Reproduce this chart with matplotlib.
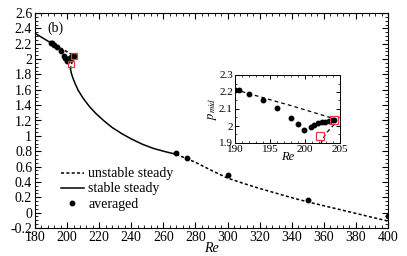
import matplotlib
matplotlib.use("Agg")
import matplotlib.pyplot as plt
from matplotlib.ticker import MultipleLocator, FuncFormatter

plt.rcParams['font.family'] = ['Liberation Serif', 'DejaVu Serif']
plt.rcParams['mathtext.fontset'] = 'stix'

# stable upper branch
re_stable_up = [180, 182, 184, 186, 188, 190]
p_stable_up = [2.335, 2.31, 2.285, 2.26, 2.235, 2.215]

# unstable upper branch (incl. fold)
re_unstable_up = [190, 192, 194, 196, 198, 200, 202, 204, 204.4, 204.2, 203.6, 202.9, 202.4, 202.1]
p_unstable_up = [2.215, 2.19, 2.167, 2.143, 2.12, 2.095, 2.07, 2.045, 2.035, 2.01, 1.985, 1.95, 1.91, 1.87]

# stable lower branch
re_stable_low = [202.1, 202.6, 203.5, 205, 207, 210, 214, 218, 223, 228, 234, 240, 247, 254, 261, 268]
p_stable_low = [1.87, 1.82, 1.76, 1.68, 1.59, 1.49, 1.38, 1.29, 1.195, 1.11, 1.03, 0.96, 0.89, 0.835, 0.795, 0.76]

# unstable lower branch
re_unstable_low = [268, 275, 280, 290, 300, 310, 320, 330, 340, 350, 360, 370, 380, 390, 400]
p_unstable_low = [0.76, 0.70, 0.655, 0.55, 0.45, 0.38, 0.315, 0.255, 0.195, 0.14, 0.09, 0.04, -0.01, -0.06, -0.11]

# averaged
re_avg = [190, 190.5, 192, 194, 196, 198, 199, 199.8, 200.8, 201.3, 201.8, 202.4, 202.9, 203.4, 203.8, 204.2,
          268, 275, 300, 350, 400]
p_avg = [2.21, 2.21, 2.186, 2.151, 2.108, 2.045, 2.01, 1.978, 1.996, 2.006, 2.016, 2.022, 2.026, 2.032, 2.034, 2.035,
         0.78, 0.71, 0.49, 0.165, -0.05]

# red squares (bifurcation points)
re_sq = [204.2, 202.2]
p_sq = [2.035, 1.94]

W, H = 407, 256
fig = plt.figure(figsize=(W / 100, H / 100), dpi=100)
ax = fig.add_axes([35 / W, 1 - 228 / H, (388 - 35) / W, (228 - 13) / H])

lw = 1.1
ax.plot(re_stable_up, p_stable_up, '-', color='black', lw=lw)
ax.plot(re_unstable_up, p_unstable_up, color='black', lw=lw, ls=(0, (2, 1.5)))
ax.plot(re_stable_low, p_stable_low, '-', color='black', lw=lw, label='stable steady')
ax.plot(re_unstable_low, p_unstable_low, color='black', lw=lw, ls=(0, (2, 1.5)), label='unstable steady')
ax.plot(re_avg, p_avg, 'o', color='black', ms=3.2, label='averaged', zorder=5)
ax.plot(re_sq, p_sq, 's', mfc='none', mec='#e03a3a', ms=5, mew=0.9, zorder=6)

ax.set_xlim(180, 400)
ax.set_ylim(-0.2, 2.6)
ax.xaxis.set_major_locator(MultipleLocator(20))
ax.xaxis.set_minor_locator(MultipleLocator(4))
ax.yaxis.set_major_locator(MultipleLocator(0.2))
ax.yaxis.set_minor_locator(MultipleLocator(0.05))

def yfmt(v, pos):
    s = ('%.1f' % v)
    if s.endswith('.0'):
        s = s[:-2]
    if s == '-0':
        s = '0'
    return s
ax.yaxis.set_major_formatter(FuncFormatter(yfmt))
ax.tick_params(which='both', direction='in', top=True, right=True, labelsize=10, pad=2)
ax.tick_params(which='major', length=4, width=0.8)
ax.tick_params(which='minor', length=2, width=0.6)
for s in ax.spines.values():
    s.set_linewidth(0.8)
ax.set_xlabel('Re', fontstyle='italic', fontsize=10, labelpad=-1)
ax.text(188, 2.4, '(b)', fontsize=10, ha='left', va='center')

h = ax.get_legend_handles_labels()[0]
handles = [h[1], h[0], h[2]]
labels = ['unstable steady', 'stable steady', 'averaged']
ax.legend(handles, labels, loc='lower left', bbox_to_anchor=(0.046, 0.036), frameon=False,
          fontsize=10, handlelength=1.65, handletextpad=0.3, labelspacing=0.15, borderpad=0.2)

# inset
ins = fig.add_axes([235 / W, 1 - 143 / H, (340 - 235) / W, (143 - 75) / H])
ins.plot(re_stable_up, p_stable_up, '-', color='black', lw=0.9)
ins.plot(re_unstable_up, p_unstable_up, color='black', lw=0.9, ls=(0, (3, 2.5)))
ins.plot(re_stable_low, p_stable_low, '-', color='black', lw=0.9)
ins.plot(re_avg, p_avg, 'o', color='black', ms=3.2, zorder=5)
ins.plot(re_sq, p_sq, 's', mfc='none', mec='#e03a3a', ms=5.5, mew=0.9, zorder=6)
ins.set_xlim(190, 205)
ins.set_ylim(1.9, 2.3)
ins.xaxis.set_major_locator(MultipleLocator(5))
ins.xaxis.set_minor_locator(MultipleLocator(1))
ins.yaxis.set_major_locator(MultipleLocator(0.1))
ins.yaxis.set_minor_locator(MultipleLocator(0.05))
ins.yaxis.set_major_formatter(FuncFormatter(yfmt))
ins.tick_params(which='both', direction='in', top=True, right=True, labelsize=8, pad=1.5)
ins.tick_params(which='major', length=3, width=0.7)
ins.tick_params(which='minor', length=1.5, width=0.5)
for s in ins.spines.values():
    s.set_linewidth(0.7)
ins.set_xlabel('Re', fontstyle='italic', fontsize=9, labelpad=-2)
ins.set_ylabel(r'$p_{mid}$', fontsize=9, labelpad=0)

fig.savefig('out.png', dpi=100)
